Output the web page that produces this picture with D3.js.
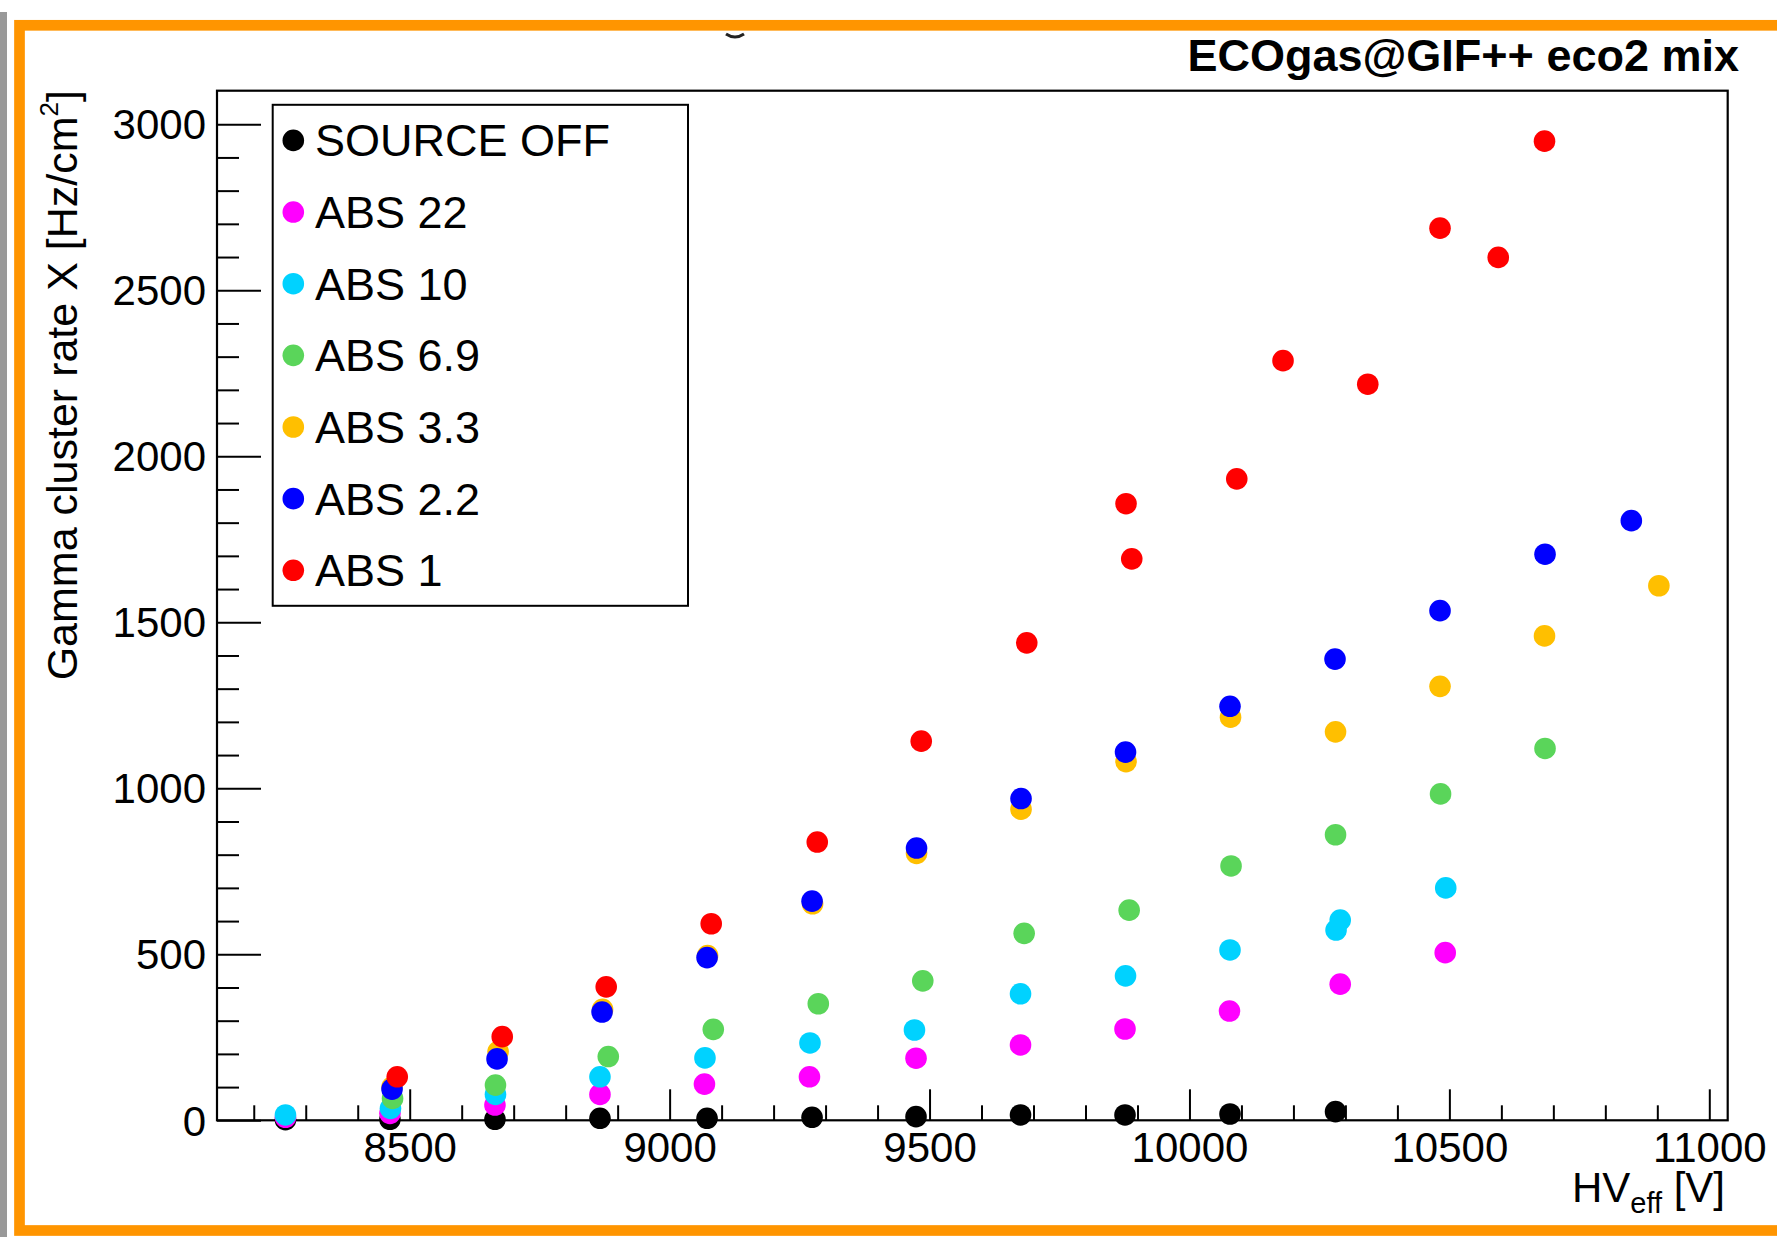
<!DOCTYPE html>
<html>
<head>
<meta charset="utf-8">
<script src="https://cdn.jsdelivr.net/npm/d3@7"></script>
<style>
  body { margin: 0; background: #fff; }
  svg text { font-family: "Liberation Sans", Arial, Helvetica, sans-serif; fill: #000; }
</style>
</head>
<body>
<div id="chart"></div>
<script>
// series in drawing order (later ones are drawn on top)
const seriesNames = ["SOURCE OFF", "ABS 22", "ABS 10", "ABS 6.9", "ABS 3.3", "ABS 2.2", "ABS 1"];
const seriesColors = ["#000000", "#ff00ff", "#00d2ff", "#5ad55a", "#ffbf00", "#0000ff", "#ff0000"];

// [HV_eff (V), gamma cluster rate (Hz/cm2)]
const sourceOff = [[8261,2],[8462,3],[8664,3],[8866,6],[9072,6],[9274,9],[9474,11],[9675,16],[9876,16],[10078,19],[10281,26]];
const abs22 = [[8261,9],[8462,21],[8664,46],[8866,78],[9067,109],[9269,131],[9474,187],[9675,227],[9876,275],[10077,329],[10290,410],[10492,505]];
const abs10 = [[8261,16],[8463,36],[8665,78],[8866,131],[9068,188],[9270,233],[9471,272],[9675,381],[9877,435],[10078,513],[10282,573],[10290,603],[10493,700]];
const abs6_9 = [[8467,66],[8665,106],[8882,192],[9084,274],[9286,351],[9487,420],[9682,563],[9884,633],[10080,766],[10281,860],[10483,983],[10684,1120]];
const abs3_3 = [[8466,100],[8670,207],[8871,334],[9073,496],[9275,652],[9475,804],[9676,937],[9878,1080],[10079,1214],[10281,1170],[10482,1307],[10683,1459],[10903,1610]];
const abs2_2 = [[8466,94],[8668,185],[8870,326],[9072,490],[9274,660],[9475,820],[9676,969],[9877,1109],[10078,1247],[10280,1389],[10482,1535],[10684,1705],[10850,1806]];
const abs1 = [[8476,131],[8678,252],[8878,402],[9080,592],[9284,838],[9484,1142],[9687,1438],[9878,1857],[9889,1691],[10091,1932],[10180,2288],[10343,2217],[10482,2687],[10594,2599],[10683,2949]];

const seriesData = [sourceOff, abs22, abs10, abs6_9, abs3_3, abs2_2, abs1];

const xMajorTicks = [8500, 9000, 9500, 10000, 10500, 11000];
const xMinorTicks = d3.range(8200, 11001, 100);
const yMajorTicks = [0, 500, 1000, 1500, 2000, 2500, 3000];
const yMinorTicks = d3.range(0, 3001, 100);

const titleText = "ECOgas@GIF++ eco2 mix";

const width = 1777, height = 1244;
const frame = { left: 217, right: 1727.7, top: 90.7, bottom: 1120.3 };

const svg = d3.select("#chart").append("svg")
  .attr("width", width)
  .attr("height", height)
  .attr("viewBox", [0, 0, width, height]);

svg.append("rect").attr("width", width).attr("height", height).attr("fill", "#fff");

// canvas decorations: grey strip and orange border
svg.append("rect")
  .attr("x", 0).attr("y", 12).attr("width", 7).attr("height", 1225)
  .attr("fill", "#999999");

svg.append("rect")
  .attr("x", 19.5).attr("y", 25.3).attr("width", 1800).attr("height", 1205.2)
  .attr("fill", "none")
  .attr("stroke", "#ff9500")
  .attr("stroke-width", 10.7);

// bit of a cut off glyph under the top border
svg.append("path")
  .attr("d", "M726,34 Q735,40 744,34")
  .attr("fill", "none").attr("stroke", "#222").attr("stroke-width", 3);

const x = d3.scaleLinear().domain([8129.3, 11035.4]).range([frame.left, frame.right]);
const y = d3.scaleLinear().domain([0, 3101]).range([frame.bottom, frame.top]);

// axes (ticks drawn inside the frame)
const gx = svg.append("g").attr("transform", `translate(0,${frame.bottom})`);
gx.append("g")
  .call(d3.axisBottom(x).tickValues(xMinorTicks.filter(v => v % 500 !== 0)).tickSize(-15).tickFormat(""))
  .call(g => g.select(".domain").remove());
gx.append("g")
  .call(d3.axisBottom(x).tickValues(xMajorTicks).tickSize(-31).tickPadding(12).tickFormat(d3.format("d")))
  .call(g => g.select(".domain").remove())
  .call(g => g.selectAll("text").attr("font-size", 42).attr("font-family", "Liberation Sans, Arial, sans-serif"));

const gy = svg.append("g").attr("transform", `translate(${frame.left},0)`);
gy.append("g")
  .call(d3.axisLeft(y).tickValues(yMinorTicks.filter(v => v % 500 !== 0)).tickSize(-22).tickFormat(""))
  .call(g => g.select(".domain").remove());
gy.append("g")
  .call(d3.axisLeft(y).tickValues(yMajorTicks).tickSize(-44).tickPadding(11).tickFormat(d3.format("d")))
  .call(g => g.select(".domain").remove())
  .call(g => g.selectAll("text").attr("font-size", 42).attr("dy", "0.35em").attr("font-family", "Liberation Sans, Arial, sans-serif"));

svg.selectAll(".tick line").attr("stroke", "#000").attr("stroke-width", 2);

// frame
svg.append("rect")
  .attr("x", frame.left).attr("y", frame.top)
  .attr("width", frame.right - frame.left).attr("height", frame.bottom - frame.top)
  .attr("fill", "none").attr("stroke", "#000").attr("stroke-width", 2.2);

// markers
seriesData.forEach(function(series, i){
  svg.append("g")
    .selectAll("circle")
    .data(series)
    .join("circle")
      .attr("cx", d => x(d[0]))
      .attr("cy", d => y(d[1]))
      .attr("r", 10.8)
      .attr("fill", seriesColors[i]);
});

// legend
const legend = svg.append("g");
legend.append("rect")
  .attr("x", 272.7).attr("y", 104.8).attr("width", 415.3).attr("height", 501)
  .attr("fill", "#fff").attr("stroke", "#000").attr("stroke-width", 2);

seriesNames.forEach(function(name, i){
  const cy = 140.4 + i * 71.65;
  legend.append("circle")
    .attr("cx", 293.3).attr("cy", cy).attr("r", 10.8)
    .attr("fill", seriesColors[i]);
  legend.append("text")
    .attr("x", 315).attr("y", cy + 16)
    .attr("font-size", 45)
    .text(name);
});

// title
svg.append("text")
  .attr("x", 1739).attr("y", 70.7)
  .attr("text-anchor", "end")
  .attr("font-size", 45)
  .attr("font-weight", "bold")
  .text(titleText);

// x axis title
const xt = svg.append("text")
  .attr("x", 1725).attr("y", 1202)
  .attr("text-anchor", "end")
  .attr("font-size", 42);
xt.append("tspan").text("HV");
xt.append("tspan").attr("font-size", 29).attr("dy", 11).text("eff");
xt.append("tspan").attr("dy", -11).text(" [V]");

// y axis title
const yt = svg.append("text")
  .attr("transform", "translate(77,90) rotate(-90)")
  .attr("text-anchor", "end")
  .attr("font-size", 43);
yt.append("tspan").text("Gamma cluster rate X [Hz/cm");
yt.append("tspan").attr("font-size", 26).attr("dy", -19).text("2");
yt.append("tspan").attr("dy", 19).text("]");
</script>
</body>
</html>
